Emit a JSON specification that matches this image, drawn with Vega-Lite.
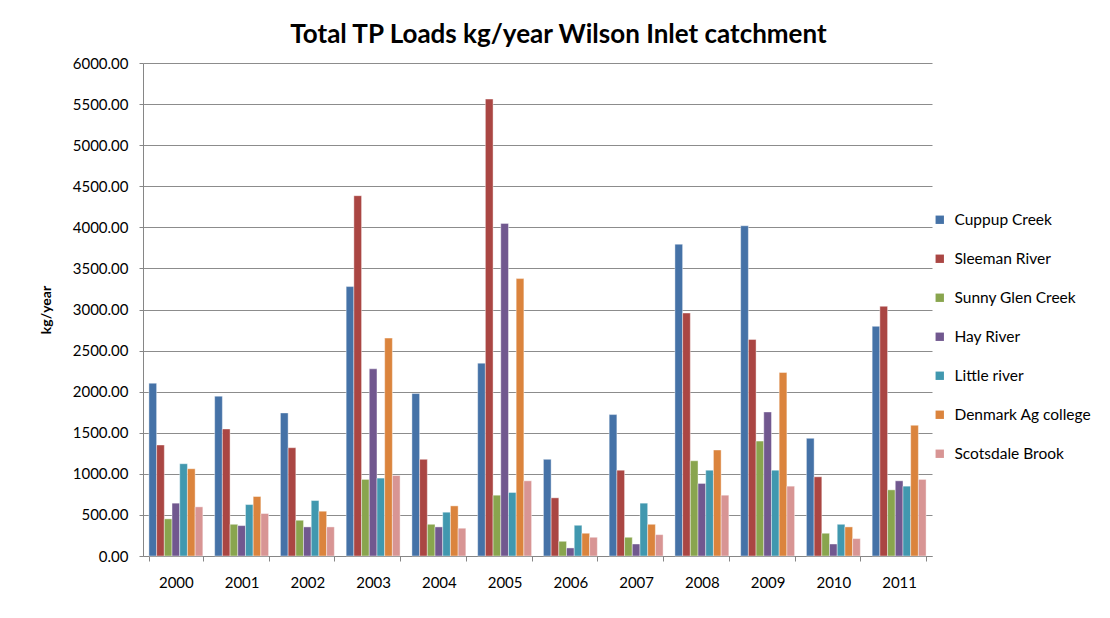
{
  "$schema": "https://vega.github.io/schema/vega-lite/v6.json",
  "width": 789,
  "height": 493,
  "autosize": {"type": "none"},
  "padding": {"left": 143, "top": 63, "right": 178, "bottom": 62},
  "background": "white",
  "config": {
    "font": "Lato",
    "view": {"stroke": null},
    "axis": {"labelFont": "Lato", "titleFont": "Lato", "labelColor": "#000", "titleColor": "#000"}
  },
  "title": {
    "text": "Total TP Loads kg/year Wilson Inlet catchment",
    "font": "Lato",
    "fontSize": 26,
    "fontWeight": "bold",
    "color": "#000",
    "anchor": "middle",
    "dx": 21,
    "offset": 8
  },
  "datasets": {
    "loads": [
      {"year": "2000", "site": "Cuppup Creek", "value": 2103},
      {"year": "2000", "site": "Sleeman River", "value": 1351},
      {"year": "2000", "site": "Sunny Glen Creek", "value": 452},
      {"year": "2000", "site": "Hay River", "value": 643},
      {"year": "2000", "site": "Little river", "value": 1123},
      {"year": "2000", "site": "Denmark Ag college", "value": 1062},
      {"year": "2000", "site": "Scotsdale Brook", "value": 598},
      {"year": "2001", "site": "Cuppup Creek", "value": 1945},
      {"year": "2001", "site": "Sleeman River", "value": 1546},
      {"year": "2001", "site": "Sunny Glen Creek", "value": 386},
      {"year": "2001", "site": "Hay River", "value": 370},
      {"year": "2001", "site": "Little river", "value": 626},
      {"year": "2001", "site": "Denmark Ag college", "value": 724},
      {"year": "2001", "site": "Scotsdale Brook", "value": 517},
      {"year": "2002", "site": "Cuppup Creek", "value": 1741},
      {"year": "2002", "site": "Sleeman River", "value": 1318},
      {"year": "2002", "site": "Sunny Glen Creek", "value": 435},
      {"year": "2002", "site": "Hay River", "value": 354},
      {"year": "2002", "site": "Little river", "value": 675},
      {"year": "2002", "site": "Denmark Ag college", "value": 545},
      {"year": "2002", "site": "Scotsdale Brook", "value": 354},
      {"year": "2003", "site": "Cuppup Creek", "value": 3279},
      {"year": "2003", "site": "Sleeman River", "value": 4385},
      {"year": "2003", "site": "Sunny Glen Creek", "value": 932},
      {"year": "2003", "site": "Hay River", "value": 2278},
      {"year": "2003", "site": "Little river", "value": 948},
      {"year": "2003", "site": "Denmark Ag college", "value": 2652},
      {"year": "2003", "site": "Scotsdale Brook", "value": 980},
      {"year": "2004", "site": "Cuppup Creek", "value": 1977},
      {"year": "2004", "site": "Sleeman River", "value": 1176},
      {"year": "2004", "site": "Sunny Glen Creek", "value": 386},
      {"year": "2004", "site": "Hay River", "value": 354},
      {"year": "2004", "site": "Little river", "value": 533},
      {"year": "2004", "site": "Denmark Ag college", "value": 610},
      {"year": "2004", "site": "Scotsdale Brook", "value": 338},
      {"year": "2005", "site": "Cuppup Creek", "value": 2347},
      {"year": "2005", "site": "Sleeman River", "value": 5561},
      {"year": "2005", "site": "Sunny Glen Creek", "value": 740},
      {"year": "2005", "site": "Hay River", "value": 4048},
      {"year": "2005", "site": "Little river", "value": 773},
      {"year": "2005", "site": "Denmark Ag college", "value": 3376},
      {"year": "2005", "site": "Scotsdale Brook", "value": 915},
      {"year": "2006", "site": "Cuppup Creek", "value": 1176},
      {"year": "2006", "site": "Sleeman River", "value": 708},
      {"year": "2006", "site": "Sunny Glen Creek", "value": 179},
      {"year": "2006", "site": "Hay River", "value": 98},
      {"year": "2006", "site": "Little river", "value": 374},
      {"year": "2006", "site": "Denmark Ag college", "value": 277},
      {"year": "2006", "site": "Scotsdale Brook", "value": 228},
      {"year": "2007", "site": "Cuppup Creek", "value": 1721},
      {"year": "2007", "site": "Sleeman River", "value": 1045},
      {"year": "2007", "site": "Sunny Glen Creek", "value": 228},
      {"year": "2007", "site": "Hay River", "value": 146},
      {"year": "2007", "site": "Little river", "value": 643},
      {"year": "2007", "site": "Denmark Ag college", "value": 386},
      {"year": "2007", "site": "Scotsdale Brook", "value": 260},
      {"year": "2008", "site": "Cuppup Creek", "value": 3795},
      {"year": "2008", "site": "Sleeman River", "value": 2957},
      {"year": "2008", "site": "Sunny Glen Creek", "value": 1159},
      {"year": "2008", "site": "Hay River", "value": 883},
      {"year": "2008", "site": "Little river", "value": 1045},
      {"year": "2008", "site": "Denmark Ag college", "value": 1290},
      {"year": "2008", "site": "Scotsdale Brook", "value": 740},
      {"year": "2009", "site": "Cuppup Creek", "value": 4019},
      {"year": "2009", "site": "Sleeman River", "value": 2636},
      {"year": "2009", "site": "Sunny Glen Creek", "value": 1399},
      {"year": "2009", "site": "Hay River", "value": 1753},
      {"year": "2009", "site": "Little river", "value": 1045},
      {"year": "2009", "site": "Denmark Ag college", "value": 2233},
      {"year": "2009", "site": "Scotsdale Brook", "value": 850},
      {"year": "2010", "site": "Cuppup Creek", "value": 1432},
      {"year": "2010", "site": "Sleeman River", "value": 964},
      {"year": "2010", "site": "Sunny Glen Creek", "value": 277},
      {"year": "2010", "site": "Hay River", "value": 146},
      {"year": "2010", "site": "Little river", "value": 386},
      {"year": "2010", "site": "Denmark Ag college", "value": 354},
      {"year": "2010", "site": "Scotsdale Brook", "value": 212},
      {"year": "2011", "site": "Cuppup Creek", "value": 2795},
      {"year": "2011", "site": "Sleeman River", "value": 3039},
      {"year": "2011", "site": "Sunny Glen Creek", "value": 805},
      {"year": "2011", "site": "Hay River", "value": 915},
      {"year": "2011", "site": "Little river", "value": 850},
      {"year": "2011", "site": "Denmark Ag college", "value": 1591},
      {"year": "2011", "site": "Scotsdale Brook", "value": 932}
    ]
  },
  "data": {"name": "loads"},
  "mark": {"type": "bar", "stroke": "#ffffff", "strokeWidth": 0.6, "strokeOpacity": 0.7},
  "encoding": {
    "x": {
      "field": "year",
      "type": "nominal",
      "scale": {"paddingInner": 0.18, "paddingOuter": 0.09},
      "axis": {
        "title": null,
        "labelAngle": 0,
        "labelFontSize": 15,
        "labelPadding": 14,
        "tickBand": "extent",
        "tickSize": 5,
        "tickColor": "#868686",
        "domainColor": "#868686",
        "grid": false
      }
    },
    "xOffset": {
      "field": "site",
      "type": "nominal",
      "sort": ["Cuppup Creek", "Sleeman River", "Sunny Glen Creek", "Hay River", "Little river", "Denmark Ag college", "Scotsdale Brook"],
      "scale": {"paddingInner": 0, "paddingOuter": 0}
    },
    "y": {
      "field": "value",
      "type": "quantitative",
      "scale": {"domain": [0, 6000], "nice": false},
      "axis": {
        "title": "kg/year",
        "titleFontSize": 14,
        "titleFontWeight": "bold",
        "titlePadding": 19,
        "values": [0, 500, 1000, 1500, 2000, 2500, 3000, 3500, 4000, 4500, 5000, 5500, 6000],
        "format": ".2f",
        "labelFontSize": 15,
        "labelPadding": 11,
        "tickSize": 4,
        "tickColor": "#868686",
        "domainColor": "#868686",
        "gridColor": "#8c8c8c",
        "gridWidth": 1
      }
    },
    "color": {
      "field": "site",
      "type": "nominal",
      "scale": {
        "domain": ["Cuppup Creek", "Sleeman River", "Sunny Glen Creek", "Hay River", "Little river", "Denmark Ag college", "Scotsdale Brook"],
        "range": ["#4572A7", "#AA4643", "#89A54E", "#71588F", "#4198AF", "#DB843D", "#D89594"]
      },
      "legend": {
        "title": null,
        "orient": "none",
        "legendX": 789,
        "legendY": 149,
        "symbolType": "square",
        "symbolSize": 70,
        "symbolStrokeWidth": 0,
        "labelFontSize": 15.5,
        "labelFont": "Lato",
        "labelColor": "#000",
        "labelOffset": 7,
        "rowPadding": 22
      }
    }
  }
}
